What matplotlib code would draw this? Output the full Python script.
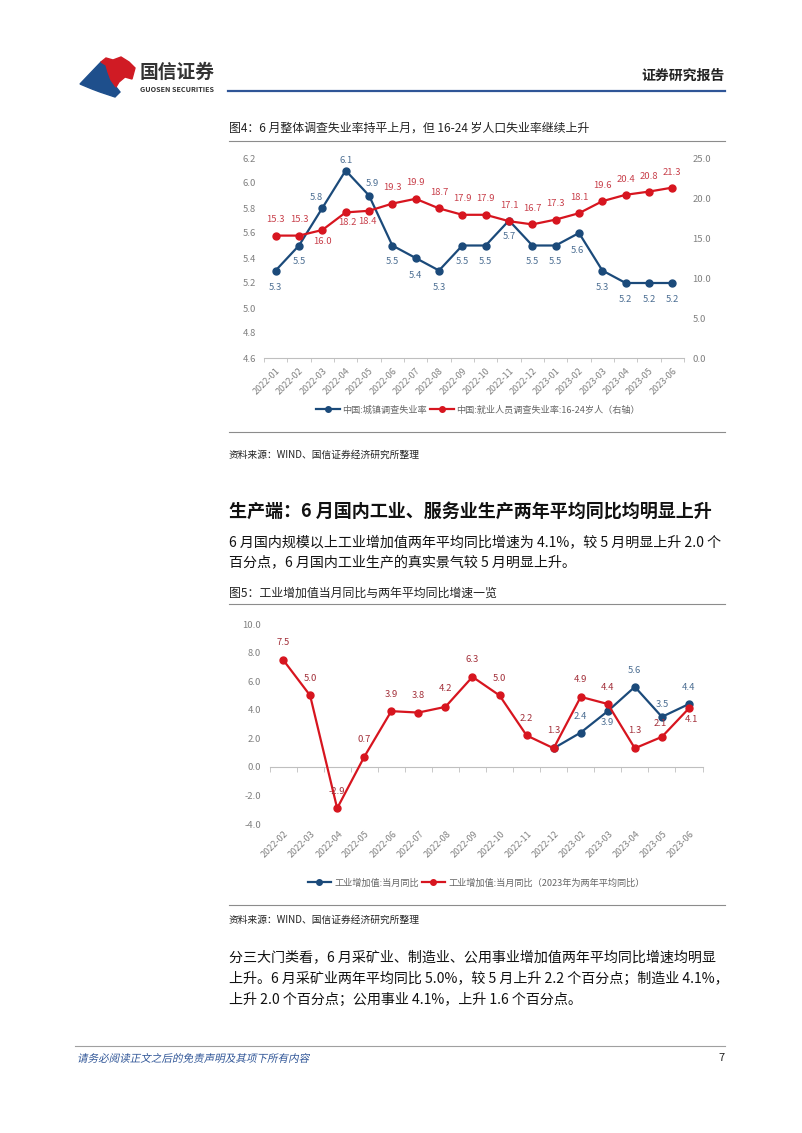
import matplotlib
matplotlib.use("Agg")
import matplotlib.pyplot as plt
import matplotlib.transforms as mtransforms
from matplotlib.patches import Polygon, PathPatch
from matplotlib.textpath import TextPath
from matplotlib.font_manager import FontProperties
import numpy as np

plt.rcParams['font.family'] = ['Noto Sans CJK SC', 'DejaVu Sans']

# ---- 数据：图4 ----
months1 = ["2022-01", "2022-02", "2022-03", "2022-04", "2022-05", "2022-06",
           "2022-07", "2022-08", "2022-09", "2022-10", "2022-11", "2022-12",
           "2023-01", "2023-02", "2023-03", "2023-04", "2023-05", "2023-06"]
urban_rate = [5.3, 5.5, 5.8, 6.1, 5.9, 5.5, 5.4, 5.3, 5.5, 5.5, 5.7, 5.5,
              5.5, 5.6, 5.3, 5.2, 5.2, 5.2]
youth_rate = [15.3, 15.3, 16.0, 18.2, 18.4, 19.3, 19.9, 18.7, 17.9, 17.9, 17.1,
              16.7, 17.3, 18.1, 19.6, 20.4, 20.8, 21.3]

# ---- 数据：图5 ----
months2 = ["2022-02", "2022-03", "2022-04", "2022-05", "2022-06", "2022-07",
           "2022-08", "2022-09", "2022-10", "2022-11", "2022-12", "2023-02",
           "2023-03", "2023-04", "2023-05", "2023-06"]
ind_yoy = [None] * 10 + [1.3, 2.4, 3.9, 5.6, 3.5, 4.4]
ind_yoy_2y = [7.5, 5.0, -2.9, 0.7, 3.9, 3.8, 4.2, 6.3, 5.0, 2.2, 1.3, 4.9,
              4.4, 1.3, 2.1, 4.1]

BLUE = "#1b4a7a"
RED = "#d7151f"
BLUE_TXT = "#4d6f93"
RED_TXT = "#c8404b"
RED_TXT2 = "#a3303a"
GRAY = "#808080"

W, H = 802, 1133
fig = plt.figure(figsize=(W / 100, H / 100), dpi=100)


def fx(x):
    return x / W


def fy(y):
    return 1 - y / H


def ptext(x, y, s, **kw):
    fig.text(fx(x), fy(y), s, **kw)


def hline(x0, x1, y, color="#8c8c8c", lw=0.8):
    fig.add_artist(plt.Line2D([fx(x0), fx(x1)], [fy(y), fy(y)], color=color, lw=lw))


# ---- 页眉 ----
blue_logo = [(80, 84), (101, 62), (106, 65), (108, 72), (111, 80), (116, 87), (120, 92),
             (115, 97), (100, 92), (92, 89)]
red_logo = [(101, 62), (106, 58), (113, 60), (121, 57), (129, 62), (135, 68), (132, 79),
            (125, 77), (119, 82), (116, 87), (111, 80), (108, 72), (106, 65)]
fig.add_artist(Polygon([(fx(a), fy(b)) for a, b in blue_logo], closed=True, color="#1e4f8c",
                       transform=fig.transFigure))
fig.add_artist(Polygon([(fx(a), fy(b)) for a, b in red_logo], closed=True, color="#d01b24",
                       transform=fig.transFigure))
ptext(140, 72, "国信证券", fontsize=13.5, color="#333333", va="center", fontweight="bold")
ptext(140, 89, "GUOSEN SECURITIES", fontsize=5.2, color="#333333", va="center", fontweight="bold")
ptext(725, 76, "证券研究报告", fontsize=10, color="#222222", va="center", ha="right", fontweight="bold")
hline(228, 725, 91, color="#2f5597", lw=1.6)

# ---- 图4 ----
ptext(229, 128, "图4：6 月整体调查失业率持平上月，但 16-24 岁人口失业率继续上升", fontsize=8.6,
      color="#222222", va="center")
hline(229, 725, 141)

ax1 = fig.add_axes([fx(264), fy(358), (684 - 264) / W, (358 - 158) / H])
x1 = np.arange(len(months1))
ax1.plot(x1, urban_rate, color=BLUE, lw=1.6, marker="o", ms=5, zorder=3)
ax1.set_ylim(4.6, 6.2)
ax1.set_yticks(np.arange(4.6, 6.21, 0.2))
ax1.set_yticklabels([f"{v:.1f}" for v in np.arange(4.6, 6.21, 0.2)])
ax1.set_xlim(-0.5, len(months1) - 0.5)
ax1.set_xticks(x1)
ax1.set_xticklabels(months1, rotation=45, ha="right", rotation_mode="anchor", fontsize=6.5, color=GRAY)
ax1.set_xticks(np.arange(-0.5, len(months1), 1), minor=True)
ax1.tick_params(axis="x", which="major", length=0, pad=6)
ax1.tick_params(axis="x", which="minor", length=3, color="#bfbfbf", direction="out")
ax1.tick_params(axis="y", length=0, labelsize=6.8, labelcolor=GRAY, pad=6)
for s in ["top", "right", "left"]:
    ax1.spines[s].set_visible(False)
ax1.spines["bottom"].set_color("#bfbfbf")

ax1r = ax1.twinx()
ax1r.plot(x1, youth_rate, color=RED, lw=1.6, marker="o", ms=5, zorder=3)
ax1r.set_ylim(0, 25)
ax1r.set_yticks(np.arange(0, 25.1, 5))
ax1r.set_yticklabels([f"{v:.1f}" for v in np.arange(0, 25.1, 5)])
ax1r.tick_params(axis="y", length=0, labelsize=6.8, labelcolor=GRAY, pad=6)
for s in ["top", "right", "left", "bottom"]:
    ax1r.spines[s].set_visible(False)

urban_off = [(0, -17), (0, -16), (-6, 11), (0, 10), (3, 12), (0, -16), (0, -17), (0, -17),
             (0, -16), (0, -16), (0, -16), (0, -16), (0, -16), (-2, -17), (0, -17),
             (0, -16), (0, -16), (0, -16)]
youth_off = [(0, 16), (0, 16), (0, -11), (2, -10), (-2, -11), (0, 16), (0, 16), (0, 16),
             (0, 16), (0, 16), (0, 16), (0, 16), (0, 16), (0, 16), (0, 16), (0, 15),
             (0, 15), (0, 15)]
for i, v in enumerate(urban_rate):
    dx, dy = urban_off[i]
    ax1.annotate(f"{v:.1f}", (i, v), xytext=(dx * 0.72, dy * 0.72), textcoords="offset points",
                 ha="center", va="center", fontsize=6.8, color=BLUE_TXT)
for i, v in enumerate(youth_rate):
    dx, dy = youth_off[i]
    ax1r.annotate(f"{v:.1f}", (i, v), xytext=(dx * 0.72, dy * 0.72), textcoords="offset points",
                  ha="center", va="center", fontsize=6.8, color=RED_TXT)

h1 = plt.Line2D([], [], color=BLUE, lw=1.6, marker="o", ms=4)
h2 = plt.Line2D([], [], color=RED, lw=1.6, marker="o", ms=4)
fig.legend([h1, h2], ["中国:城镇调查失业率", "中国:就业人员调查失业率:16-24岁人（右轴）"],
           loc="center", bbox_to_anchor=(fx(478), fy(410)), ncol=2, frameon=False,
           fontsize=6.6, labelcolor="#666666", handlelength=2.6, handletextpad=0.3,
           columnspacing=0.3)

hline(229, 725, 432)
ptext(229, 455, "资料来源：WIND、国信证券经济研究所整理", fontsize=7, color="#222222", va="center")

# ---- 正文 ----
ptext(229, 512, "生产端：6 月国内工业、服务业生产两年平均同比均明显上升", fontsize=13, color="#111111",
      va="center", fontweight="bold")
ptext(229, 542, "6 月国内规模以上工业增加值两年平均同比增速为 4.1%，较 5 月明显上升 2.0 个", fontsize=10.1,
      color="#111111", va="center")
ptext(229, 563, "百分点，6 月国内工业生产的真实景气较 5 月明显上升。", fontsize=10.1, color="#111111",
      va="center")

# ---- 图5 ----
ptext(229, 593, "图5：工业增加值当月同比与两年平均同比增速一览", fontsize=8.6, color="#222222", va="center")
hline(229, 725, 604)

ax2 = fig.add_axes([fx(269.5), fy(824), (702.5 - 269.5) / W, (824 - 624) / H])
x2 = np.arange(len(months2))
yoy = np.array([np.nan if v is None else v for v in ind_yoy], dtype=float)
ax2.plot(x2, yoy, color=BLUE, lw=1.6, marker="o", ms=5, zorder=3)
ax2.plot(x2, ind_yoy_2y, color=RED, lw=1.6, marker="o", ms=5, zorder=4)
ax2.set_ylim(-4, 10)
ax2.set_yticks(np.arange(-4, 10.1, 2))
ax2.set_yticklabels([f"{v:.1f}" for v in np.arange(-4, 10.1, 2)])
ax2.set_xlim(-0.5, len(months2) - 0.5)
ax2.set_xticks(x2)
ax2.set_xticklabels([])
ax2.set_xticks(np.arange(-0.5, len(months2), 1), minor=True)
ax2.spines["bottom"].set_position(("data", 0))
ax2.spines["bottom"].set_color("#bfbfbf")
ax2.tick_params(axis="x", which="major", length=0)
ax2.tick_params(axis="x", which="minor", length=3.5, color="#bfbfbf", direction="out")
ax2.tick_params(axis="y", length=0, labelsize=6.8, labelcolor=GRAY, pad=6)
for s in ["top", "right", "left"]:
    ax2.spines[s].set_visible(False)
trans = mtransforms.blended_transform_factory(ax2.transData, ax2.transAxes)
for i, lab in enumerate(months2):
    ax2.text(i + 0.15, -0.04, lab, transform=trans, rotation=45, ha="right", va="center",
             rotation_mode="anchor", fontsize=6.5, color=GRAY)

red_off = [(0, 17), (0, 17), (0, 17), (0, 17), (0, 17), (0, 17), (0, 18), (0, 17),
           (0, 17), (0, 17), (0, 18), (0, 17), (0, 17), (0, 18), (-2, 13), (2, -11)]
blue_off = {11: (0, 16), 12: (0, -11), 13: (0, 16), 14: (0, 12), 15: (0, 17)}
for i, v in enumerate(ind_yoy_2y):
    dx, dy = red_off[i]
    ax2.annotate(f"{v:.1f}", (i, v), xytext=(dx * 0.72, dy * 0.72), textcoords="offset points",
                 ha="center", va="center", fontsize=6.8, color=RED_TXT2, zorder=5)
for i, (dx, dy) in blue_off.items():
    v = ind_yoy[i]
    ax2.annotate(f"{v:.1f}", (i, v), xytext=(dx * 0.72, dy * 0.72), textcoords="offset points",
                 ha="center", va="center", fontsize=6.8, color=BLUE_TXT, zorder=5)

fig.legend([h1, h2], ["工业增加值:当月同比", "工业增加值:当月同比（2023年为两年平均同比）"],
           loc="center", bbox_to_anchor=(fx(476), fy(883)), ncol=2, frameon=False,
           fontsize=6.6, labelcolor="#666666", handlelength=2.6, handletextpad=0.3,
           columnspacing=0.3)

hline(229, 725, 905)
ptext(229, 920, "资料来源：WIND、国信证券经济研究所整理", fontsize=7, color="#222222", va="center")

ptext(229, 957, "分三大门类看，6 月采矿业、制造业、公用事业增加值两年平均同比增速均明显", fontsize=10.1,
      color="#111111", va="center")
ptext(229, 979, "上升。6 月采矿业两年平均同比 5.0%，较 5 月上升 2.2 个百分点；制造业 4.1%，", fontsize=10.1,
      color="#111111", va="center")
ptext(229, 1000, "上升 2.0 个百分点；公用事业 4.1%，上升 1.6 个百分点。", fontsize=10.1,
      color="#111111", va="center")

# ---- 页脚 ----
hline(75, 725, 1046, color="#a0a0a0", lw=0.8)
# 斜体：CJK 字体没有 italic，用路径加倾斜
tp = TextPath((0, 0), "请务必阅读正文之后的免责声明及其项下所有内容", size=7.6 * 100 / 72,
              prop=FontProperties(family="Noto Sans CJK SC"))
skew = mtransforms.Affine2D().skew_deg(12, 0).translate(77, H - 1062)
fig.add_artist(PathPatch(tp, transform=skew, color="#2f5597", lw=0))
ptext(725, 1058, "7", fontsize=8, color="#222222", va="center", ha="right")

fig.savefig("out.png", dpi=100)
